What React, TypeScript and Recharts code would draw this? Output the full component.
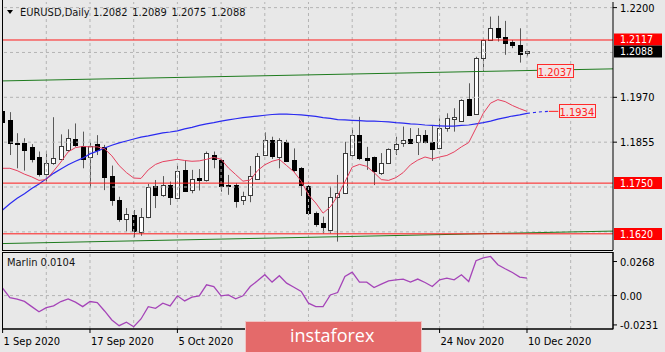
import { Bar, ComposedChart, Line, ReferenceDot, ReferenceLine, XAxis, YAxis } from 'recharts'

const FONT = "'DejaVu Sans Condensed', 'Liberation Sans', Arial, sans-serif"
const BG = '#e8e8e8'
const GRID = '#b4b4b4'

// axis windows (data units)
const X_MIN = -0.082
const X_MAX = 83.81
const PRICE_MIN = 1.15785
const PRICE_MAX = 1.22144
const MARLIN_MIN = -0.0263
const MARLIN_MAX = 0.0343

// date labels that are not hidden under the watermark
const dateTicks = [0, 12, 24, 60, 72]
const dateLabels = ['1 Sep 2020', '17 Sep 2020', '5 Oct 2020', '24 Nov 2020', '10 Dec 2020']
const gridBars = [6, 12, 18, 24, 30, 36, 42, 48, 54, 60, 66, 72, 78]
const priceGrid = [1.22, 1.2085, 1.197, 1.1855, 1.174, 1.1625]
// the other scale labels sit under the price tags
const priceTicks = [1.22, 1.197, 1.1855]
const marlinTicks = [0.0268, 0, -0.0231]
const marlinTickLabels = ['0.0268', '0.00', '-0.0231']

const opens = [
  1.1935, 1.1912, 1.1854, 1.1852, 1.1842, 1.1816, 1.1773, 1.1801, 1.1812, 1.1835,
  1.1862, 1.1846, 1.1816, 1.185, 1.1843, 1.1769, 1.1707, 1.1657, 1.1668, 1.1626,
  1.1664, 1.1743, 1.172, 1.1745, 1.1714, 1.1784, 1.1731, 1.1762, 1.1758, 1.1822,
  1.1809, 1.1746, 1.1745, 1.1709, 1.172, 1.176, 1.1822, 1.1861, 1.1818, 1.1856,
  1.1809, 1.1788, 1.1743, 1.1674, 1.1649, 1.163, 1.1714, 1.1724, 1.1822, 1.1873,
  1.1814, 1.1816, 1.1777, 1.1802, 1.1837, 1.1854, 1.1863, 1.1854, 1.1873, 1.1856,
  1.1839, 1.1891, 1.1914, 1.191, 1.1965, 1.1927, 1.207, 1.2117, 1.2147, 1.2124,
  1.2111, 1.2104, 1.2082,
]
const highs = [
  1.2009, 1.1932, 1.1878, 1.1865, 1.185, 1.1831, 1.1833, 1.1919, 1.1875, 1.1888,
  1.1903, 1.1882, 1.1854, 1.1873, 1.1848, 1.1795, 1.1715, 1.1686, 1.1681, 1.1686,
  1.1748, 1.1758, 1.1768, 1.1754, 1.1797, 1.1809, 1.1784, 1.1786, 1.1831, 1.1831,
  1.1812, 1.1771, 1.175, 1.1728, 1.1794, 1.1827, 1.188, 1.1869, 1.1865, 1.1861,
  1.1839, 1.1791, 1.1745, 1.1677, 1.1664, 1.1741, 1.1771, 1.1856, 1.1891, 1.192,
  1.1843, 1.1818, 1.1827, 1.1839, 1.1869, 1.1895, 1.1891, 1.1891, 1.1886, 1.1899,
  1.1916, 1.1929, 1.1942, 1.1965, 1.2006, 1.2074, 1.2121, 1.2177, 1.2179, 1.2166,
  1.2117, 1.2147, 1.2089,
]
const lows = [
  1.1902, 1.1822, 1.1788, 1.1782, 1.1803, 1.1767, 1.1751, 1.1797, 1.1809, 1.1831,
  1.1843, 1.1788, 1.1737, 1.1822, 1.1732, 1.1692, 1.1651, 1.1626, 1.1611, 1.1615,
  1.166, 1.1686, 1.1715, 1.1694, 1.1711, 1.1728, 1.1724, 1.1731, 1.1754, 1.1788,
  1.1728, 1.172, 1.1687, 1.1694, 1.1701, 1.1758, 1.182, 1.1812, 1.1788, 1.1805,
  1.1779, 1.1717, 1.1668, 1.1638, 1.1621, 1.1621, 1.16, 1.1722, 1.1818, 1.1809,
  1.1784, 1.1745, 1.1771, 1.1801, 1.1822, 1.1843, 1.1852, 1.1822, 1.1852, 1.1807,
  1.1837, 1.1882, 1.1882, 1.1908, 1.1922, 1.1925, 1.2038, 1.2115, 1.2113, 1.2079,
  1.2096, 1.2059, 1.2075,
]
const closes = [
  1.1907, 1.1852, 1.1852, 1.1835, 1.1812, 1.1773, 1.1802, 1.1814, 1.1846, 1.1865,
  1.1846, 1.1812, 1.1845, 1.1835, 1.1767, 1.1707, 1.1657, 1.167, 1.1628, 1.1664,
  1.1741, 1.172, 1.1745, 1.1715, 1.1782, 1.1731, 1.176, 1.1756, 1.1827, 1.1812,
  1.1743, 1.1743, 1.1705, 1.1718, 1.1769, 1.182, 1.1861, 1.182, 1.1861, 1.1807,
  1.1784, 1.1745, 1.1673, 1.1647, 1.1638, 1.1715, 1.1724, 1.1827, 1.1873, 1.1814,
  1.1809, 1.1779, 1.1802, 1.1837, 1.185, 1.1861, 1.1854, 1.1873, 1.1856, 1.1839,
  1.1891, 1.1916, 1.1919, 1.1963, 1.1925, 1.207, 1.2117, 1.2147, 1.2124, 1.2109,
  1.2104, 1.2081, 1.2088,
]

// fast (red) and slow (blue) moving averages
const fastMa = [
  1.1788, 1.1788, 1.1782, 1.1773, 1.1766, 1.1757, 1.1759, 1.1781, 1.1804, 1.183,
  1.1841, 1.1844, 1.1843, 1.1843, 1.1838, 1.182, 1.1795, 1.1777, 1.1763, 1.1762,
  1.1784, 1.1798, 1.1805, 1.1808, 1.1811, 1.1808, 1.1806, 1.1807, 1.1811, 1.1816,
  1.1811, 1.1789, 1.1772, 1.1755, 1.1758, 1.1782, 1.1797, 1.1806, 1.1811, 1.1795,
  1.1779, 1.1755, 1.172, 1.1699, 1.1673, 1.1689, 1.1717, 1.1753, 1.1791, 1.1798,
  1.1793, 1.1777, 1.1759, 1.1757, 1.1764, 1.1777, 1.1797, 1.1809, 1.1817, 1.1812,
  1.1817, 1.1821, 1.183, 1.1843, 1.1854, 1.1891, 1.1929, 1.1955, 1.1964, 1.1959,
  1.1949, 1.1941, 1.1934,
]
const slowMa = [
  1.1681, 1.1697, 1.1711, 1.1723, 1.1736, 1.1748, 1.1761, 1.1775, 1.1786, 1.1797,
  1.1806, 1.1814, 1.1825, 1.1832, 1.184, 1.1847, 1.1853, 1.1858, 1.1863, 1.1868,
  1.1871, 1.1875, 1.1879, 1.1881, 1.1884, 1.1889, 1.1893, 1.1898, 1.1902, 1.1905,
  1.1909, 1.1912, 1.1915, 1.1918, 1.192, 1.1922, 1.1924, 1.1926, 1.1927, 1.1927,
  1.1926, 1.1925, 1.1923, 1.1921, 1.1918, 1.1916, 1.1913, 1.1912, 1.1911, 1.191,
  1.1909, 1.1909, 1.1908, 1.1907, 1.1905, 1.1904, 1.1902, 1.1901, 1.1899, 1.1898,
  1.1897, 1.1896, 1.1896, 1.1898, 1.1899, 1.1902, 1.1905, 1.1909, 1.1914, 1.1918,
  1.1922, 1.1925, 1.1929,
]
const slowMaProjection = [1.1929, 1.1931, 1.1933, 1.1934]

const marlin = [
  0.0058, -0.0016, -0.0028, -0.0046, -0.0087, -0.0127, -0.0095, -0.0081, -0.0047, -0.0026,
  -0.0052, -0.0087, -0.0047, -0.0055, -0.0121, -0.0192, -0.0237, -0.021, -0.0245, -0.0184,
  -0.0087, -0.01, -0.006, -0.0081, -0.0002, -0.0042, -0.0013, -0.0002, 0.0085, 0.0071,
  -0.0002, 0.0005, -0.0026, -0.0002, 0.0071, 0.0116, 0.0164, 0.0106, 0.0156, 0.0098,
  0.0066, 0.0032, -0.006, -0.0087, -0.0087, 0.0005, 0.0024, 0.015, 0.0185, 0.0106,
  0.0106, 0.0063, 0.009, 0.0116, 0.0124, 0.013, 0.0106, 0.013, 0.0103, 0.0071,
  0.0124, 0.0137, 0.0124, 0.0164, 0.0111, 0.0274, 0.0296, 0.0308, 0.0243, 0.0211,
  0.0182, 0.0146, 0.0137,
]

// horizontal levels and sloping channel lines
const levels = [1.2117, 1.175, 1.162]
const upperChannel = [1.2012, 1.2043]
const lowerChannel = [1.1595, 1.1627]
const header = ['1.2082', '1.2089', '1.2075', '1.2088']

const rows = Array.from({ length: opens.length + slowMaProjection.length - 1 }, (_, i) => {
  const has = i < opens.length
  const p = i - (opens.length - 1)
  return {
    i,
    open: has ? opens[i] : null,
    high: has ? highs[i] : null,
    low: has ? lows[i] : null,
    close: has ? closes[i] : null,
    range: has ? [lows[i], highs[i]] : null,
    fast: has ? fastMa[i] : null,
    slow: has ? slowMa[i] : null,
    proj: p >= 0 ? slowMaProjection[p] : null,
    marlin: has ? marlin[i] : null,
  }
})

function Candle(props: any) {
  const { x, y, width, height, payload } = props
  if (!payload || payload.high == null || !isFinite(y) || !isFinite(height)) return null
  const { open, close, high, low } = payload
  const c = Math.round(x + width / 2)
  const k = height / (high - low)
  const yO = y + (high - open) * k
  const yC = y + (high - close) * k
  const up = close >= open
  const top = Math.round(Math.min(yO, yC))
  const h = Math.max(1, Math.round(Math.abs(yC - yO)))
  return (
    <g>
      <line x1={c + 0.5} x2={c + 0.5} y1={y} y2={y + height} stroke="#5a5a5a" />
      <rect x={c - 1.5} y={top + 0.5} width={4} height={h} fill={up ? '#ffffff' : '#000000'} stroke={up ? '#3a3a3a' : '#000000'} />
    </g>
  )
}

function AxisTag({ cx, cy, text, bg, shift = 0 }: { cx?: number; cy?: number; text: string; bg: string; shift?: number }) {
  if (cx == null || cy == null) return null
  const m = Math.round(cy)
  return (
    <g>
      <rect x={cx + 1} y={m - 6 + shift} width={48} height={12} fill={bg} />
      <text x={cx + 7} y={m + 3.5 + shift} fill="#ffffff" fontSize={10.5} fontFamily={FONT}>
        {text}
      </text>
    </g>
  )
}

function InlineTag({ cx, cy, text }: { cx?: number; cy?: number; text: string }) {
  if (cx == null || cy == null) return null
  return (
    <g>
      <rect x={Math.round(cx) - 17.5} y={Math.round(cy) - 6.5} width={36} height={13} fill="#f3e3e3" stroke="#ff2a2a" />
      <text x={cx} y={Math.round(cy) + 4.5} fill="#ff2020" fontSize={11} fontFamily={FONT} textAnchor="middle">
        {text}
      </text>
    </g>
  )
}

function PriceTick({ x, y, payload }: any) {
  return (
    <text x={x} y={y + 4} fill="#000" fontSize={11} fontFamily={FONT}>
      {payload.value.toFixed(4)}
    </text>
  )
}

function MarlinTick({ x, y, payload }: any) {
  const idx = marlinTicks.indexOf(payload.value)
  return (
    <text x={x} y={y + 4} fill="#000" fontSize={11} fontFamily={FONT}>
      {marlinTickLabels[idx]}
    </text>
  )
}

function DateTick({ x, y, payload }: any) {
  const idx = dateTicks.indexOf(payload.value)
  return (
    <text x={x + 1} y={y + 10} fill="#000" fontSize={11} fontFamily={FONT}>
      {dateLabels[idx]}
    </text>
  )
}

export default function App() {
  return (
    <div style={{ position: 'absolute', left: 0, top: 0, width: 665, height: 352, background: BG, overflow: 'hidden' }}>
      <div style={{ position: 'absolute', left: 0, top: 0 }}>
        <ComposedChart width={665} height={251} data={rows} margin={{ top: 2, right: 0, bottom: 1, left: 2 }}>
          <XAxis dataKey="i" type="number" domain={[X_MIN, X_MAX]} allowDataOverflow hide />
          <YAxis
            orientation="right"
            width={52}
            domain={[PRICE_MIN, PRICE_MAX]}
            allowDataOverflow
            ticks={priceTicks}
            interval={0}
            tick={<PriceTick />}
            tickSize={4}
            tickMargin={3}
            axisLine={{ stroke: '#000' }}
            tickLine={{ stroke: '#000' }}
          />
          {priceGrid.map((v) => (
            <ReferenceLine key={'h' + v} y={v} stroke={GRID} strokeDasharray="3 3" />
          ))}
          {gridBars.map((g) => (
            <ReferenceLine key={'v' + g} x={g} stroke={GRID} strokeDasharray="3 3" />
          ))}
          <ReferenceLine
            segment={[{ x: X_MIN, y: upperChannel[0] }, { x: X_MAX, y: upperChannel[1] }]}
            stroke="#1e7b1e"
          />
          <ReferenceLine
            segment={[{ x: X_MIN, y: lowerChannel[0] }, { x: X_MAX, y: lowerChannel[1] }]}
            stroke="#1e7b1e"
          />
          <Bar dataKey="range" barSize={5} shape={<Candle />} isAnimationActive={false} />
          <Line dataKey="slow" stroke="#2a2af0" strokeWidth={1.2} dot={false} isAnimationActive={false} />
          <Line dataKey="proj" stroke="#2a2af0" strokeWidth={1.2} strokeDasharray="3 3" dot={false} isAnimationActive={false} />
          <Line dataKey="fast" stroke="#e6405e" strokeWidth={1} dot={false} isAnimationActive={false} />
          {levels.map((v) => (
            <ReferenceLine key={'l' + v} y={v} stroke="#ff1a1a" />
          ))}
          <ReferenceLine
            segment={[{ x: 75, y: slowMaProjection[3] }, { x: 76.3, y: slowMaProjection[3] }]}
            stroke="#ff2020"
          />
          <ReferenceDot x={75.85} y={1.2037} ifOverflow="visible" shape={<InlineTag text="1.2037" />} />
          <ReferenceDot x={78.85} y={slowMaProjection[3]} ifOverflow="visible" shape={<InlineTag text="1.1934" />} />
          <ReferenceDot x={X_MAX} y={levels[0]} ifOverflow="visible" shape={<AxisTag text="1.2117" bg="#ff0000" shift={-0.5} />} />
          <ReferenceDot x={X_MAX} y={closes[closes.length - 1]} ifOverflow="visible" shape={<AxisTag text="1.2088" bg="#000000" shift={0.5} />} />
          <ReferenceDot x={X_MAX} y={levels[1]} ifOverflow="visible" shape={<AxisTag text="1.1750" bg="#ff0000" />} />
          <ReferenceDot x={X_MAX} y={levels[2]} ifOverflow="visible" shape={<AxisTag text="1.1620" bg="#ff0000" />} />
        </ComposedChart>
      </div>

      <div style={{ position: 'absolute', left: 0, top: 252 }}>
        <ComposedChart width={665} height={100} data={rows} margin={{ top: 0, right: 0, bottom: 0, left: 2 }}>
          <XAxis
            dataKey="i"
            type="number"
            domain={[X_MIN, X_MAX]}
            allowDataOverflow
            ticks={dateTicks}
            interval={0}
            height={23}
            tick={<DateTick />}
            tickSize={4}
            tickMargin={2}
            axisLine={{ stroke: '#000' }}
            tickLine={{ stroke: '#000' }}
          />
          <YAxis
            orientation="right"
            width={52}
            domain={[MARLIN_MIN, MARLIN_MAX]}
            allowDataOverflow
            ticks={marlinTicks}
            interval={0}
            tick={<MarlinTick />}
            tickSize={4}
            tickMargin={3}
            axisLine={{ stroke: '#000' }}
            tickLine={{ stroke: '#000' }}
          />
          <ReferenceLine y={0} stroke={GRID} strokeDasharray="3 3" />
          {gridBars.map((g) => (
            <ReferenceLine key={'mv' + g} x={g} stroke={GRID} strokeDasharray="3 3" />
          ))}
          <Line dataKey="marlin" stroke="#a544b8" strokeWidth={1.3} dot={false} isAnimationActive={false} />
        </ComposedChart>
      </div>

      <svg width={665} height={352} style={{ position: 'absolute', left: 0, top: 0, pointerEvents: 'none' }}>
        <line x1={2.5} x2={2.5} y1={0} y2={250} stroke="#000" />
        <line x1={2} x2={613} y1={250.5} y2={250.5} stroke="#000" />
        <rect x={2.5} y={252.5} width={610.5} height={76.5} fill="none" stroke="#000" />
        <polygon points="7,10 13,10 10,14" fill="#000" />
        <text x={20} y={16} fontSize={11} fontFamily={FONT} fill="#141414">
          EURUSD,Daily
        </text>
        {header.map((h, k) => (
          <text key={h + k} x={93 + k * 39.3} y={16} fontSize={11} fontFamily={FONT} fill="#141414">
            {h}
          </text>
        ))}
        <text x={7} y={266} fontSize={11} fontFamily={FONT} fill="#141414">
          Marlin 0.0104
        </text>
        <rect x={245.5} y={321.5} width={176} height={40} fill="#e46a6a" stroke="#f0c4c4" />
        <text x={290} y={342} fontSize={18} fontFamily="'Open Sans', 'Noto Sans', sans-serif" fill="#ffffff">
          instaforex
        </text>
      </svg>
    </div>
  )
}
